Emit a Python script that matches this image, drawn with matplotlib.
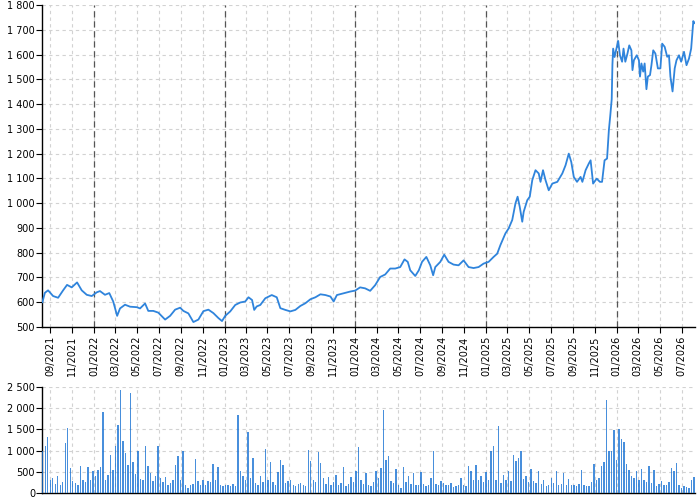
import matplotlib
matplotlib.use("Agg")
import matplotlib.pyplot as plt
import matplotlib.dates as mdates
import matplotlib.ticker as mticker
import pandas as pd
import numpy as np

price_dates = [
    "2021-08-10", "2021-08-17", "2021-08-26", "2021-09-09", "2021-09-23", "2021-10-07", "2021-10-18",
    "2021-10-31", "2021-11-15", "2021-11-28", "2021-12-12", "2021-12-26", "2022-01-09", "2022-01-18",
    "2022-02-01", "2022-02-13", "2022-02-24", "2022-03-07", "2022-03-15", "2022-03-29", "2022-04-12",
    "2022-05-01", "2022-05-10", "2022-05-24", "2022-06-02", "2022-06-16", "2022-06-30", "2022-07-19",
    "2022-08-02", "2022-08-16", "2022-08-30", "2022-09-08", "2022-09-22", "2022-10-06", "2022-10-20",
    "2022-11-03", "2022-11-17", "2022-12-01", "2022-12-15", "2022-12-25", "2023-01-03", "2023-01-17",
    "2023-01-31", "2023-02-14", "2023-02-28", "2023-03-09", "2023-03-19", "2023-03-25", "2023-04-01",
    "2023-04-11", "2023-04-25", "2023-05-13", "2023-05-27", "2023-06-06", "2023-06-20", "2023-07-04",
    "2023-07-18", "2023-08-01", "2023-08-15", "2023-08-29", "2023-09-12", "2023-09-26", "2023-10-10",
    "2023-10-24", "2023-11-02", "2023-11-11", "2023-11-30", "2023-12-18", "2024-01-01", "2024-01-15",
    "2024-01-29", "2024-02-12", "2024-02-26", "2024-03-11", "2024-03-25", "2024-04-08", "2024-04-22",
    "2024-05-06", "2024-05-18", "2024-05-27", "2024-06-03", "2024-06-17", "2024-06-27", "2024-07-06",
    "2024-07-18", "2024-07-29", "2024-08-06", "2024-08-12", "2024-08-26", "2024-09-06", "2024-09-18",
    "2024-10-02", "2024-10-16", "2024-10-30", "2024-11-13", "2024-11-27", "2024-12-11", "2024-12-25",
    "2025-01-08", "2025-01-22", "2025-02-01", "2025-02-10", "2025-02-24", "2025-03-05", "2025-03-15",
    "2025-03-24", "2025-03-30", "2025-04-05", "2025-04-12", "2025-04-16", "2025-04-26", "2025-05-03",
    "2025-05-10", "2025-05-19", "2025-05-28", "2025-06-02", "2025-06-09", "2025-06-16", "2025-06-25",
    "2025-07-05", "2025-07-19", "2025-08-02", "2025-08-11", "2025-08-20", "2025-08-27", "2025-09-03",
    "2025-09-12", "2025-09-22", "2025-09-27", "2025-10-06", "2025-10-15", "2025-10-20", "2025-10-27",
    "2025-11-06", "2025-11-15", "2025-11-21", "2025-11-28", "2025-12-05", "2025-12-10", "2025-12-14",
    "2025-12-18", "2025-12-20", "2025-12-22", "2025-12-26", "2026-01-01", "2026-01-05", "2026-01-10",
    "2026-01-16", "2026-01-20", "2026-01-25", "2026-01-31", "2026-02-05", "2026-02-11", "2026-02-14",
    "2026-02-18", "2026-02-26", "2026-03-04", "2026-03-07", "2026-03-11", "2026-03-16", "2026-03-20",
    "2026-03-25", "2026-03-29", "2026-04-04", "2026-04-08", "2026-04-13", "2026-04-19", "2026-04-26",
    "2026-05-03", "2026-05-08", "2026-05-15", "2026-05-22", "2026-05-27", "2026-05-31", "2026-06-06",
    "2026-06-12", "2026-06-17", "2026-06-24", "2026-06-30", "2026-07-08", "2026-07-15", "2026-07-22",
    "2026-07-28", "2026-08-03", "2026-08-06",
]
price_values = [
    600, 638, 648, 625, 618, 648, 670,
    660, 680, 648, 630, 625, 640, 645,
    630, 637, 603, 545, 575, 590, 582,
    580, 575, 595, 565, 565, 558, 530,
    545, 570, 578, 565, 555, 520, 530,
    564, 570, 556, 536, 524, 545, 563,
    589, 599, 603, 620, 609, 569, 583,
    589, 616, 629, 620, 576, 569, 563,
    569, 585, 596, 612, 620, 632, 629,
    623, 603, 629, 636, 643, 647, 660,
    656, 646, 669, 702, 712, 736, 736,
    742, 773, 763, 729, 706, 729, 763,
    783, 749, 709, 742, 763, 792, 763,
    752, 749, 769, 742, 738, 742, 756,
    763, 783, 796, 831, 878, 898, 932,
    999, 1026, 985, 925, 965, 1012, 1026,
    1093, 1133, 1120, 1086, 1133, 1093, 1052,
    1079, 1086, 1120, 1153, 1200, 1166, 1106,
    1086, 1106, 1086, 1133, 1160, 1173, 1079,
    1099, 1086, 1086, 1173, 1180, 1294, 1354,
    1420, 1560, 1624, 1590, 1630, 1655, 1597,
    1571, 1624, 1571, 1604, 1637, 1617, 1537,
    1577, 1597, 1577, 1511, 1564, 1531, 1564,
    1460, 1511, 1517, 1557, 1617, 1604, 1544,
    1544, 1644, 1631, 1591, 1597, 1511, 1451,
    1544, 1577, 1597, 1571, 1611, 1557, 1584,
    1624, 1735, 1727,
]

# weekly volume, weeks starting 2021-08-09
volume_start = "2021-08-09"
volume_values = [
    1000, 1100, 1320, 300, 350, 220, 390, 200, 260, 1180,
    1530, 590, 280, 240, 200, 640, 310, 250, 610, 300,
    510, 390, 550, 610, 1920, 310, 420, 900, 550, 1100,
    1610, 2440, 1220, 940, 670, 2360, 720, 450, 980, 330,
    300, 1120, 630, 470, 280, 390, 1120, 350, 260, 380,
    200, 240, 300, 670, 880, 300, 980, 200, 120, 180,
    220, 800, 280, 200, 310, 180, 280, 250, 690, 300,
    610, 200, 160, 200, 180, 160, 220, 170, 1850, 510,
    390, 300, 1450, 350, 830, 240, 200, 390, 260, 1040,
    300, 720, 250, 200, 490, 790, 670, 240, 280, 310,
    200, 170, 220, 240, 180, 160, 1010, 750, 310, 250,
    960, 710, 350, 220, 380, 200, 250, 430, 200, 240,
    610, 160, 220, 370, 250, 530, 1080, 300, 220, 470,
    200, 160, 250, 510, 350, 590, 1950, 790, 880, 280,
    230, 570, 200, 120, 610, 250, 390, 220, 460, 200,
    180, 500, 220, 170, 200, 350, 1000, 220, 180, 280,
    240, 180, 200, 240, 150, 170, 200, 350, 180, 160,
    640, 510, 300, 670, 310, 390, 250, 490, 310, 980,
    1120, 300, 1590, 240, 430, 310, 510, 280, 900, 750,
    820, 980, 330, 390, 250, 570, 280, 240, 510, 220,
    310, 160, 200, 350, 230, 510, 200, 220, 460, 200,
    330, 180, 200, 160, 220, 550, 200, 160, 170, 250,
    690, 310, 350, 640, 720, 2200, 980, 1000, 1480, 790,
    1510, 1270, 1210, 690, 550, 400, 350, 510, 300, 570,
    310, 250, 640, 240, 550, 160, 220, 280, 180, 200,
    250, 590, 530, 710, 200, 120, 170, 150, 120, 310,
    380,
]

year_lines = ["2022-01-01", "2023-01-01", "2024-01-01", "2025-01-01", "2026-01-01"]
x_start, x_end = "2021-08-09", "2026-08-08"

line_color = "#2f84dc"
bar_color = "#1a73d4"
grid_kw = dict(color="#d2d2d2", linestyle=(0, (3, 3)), linewidth=0.8)

pd_dates = pd.to_datetime(price_dates)
vol_dates = pd.date_range(volume_start, periods=len(volume_values), freq="7D")

fig = plt.figure(figsize=(7, 5), dpi=100)
ax = fig.add_axes([0.06, 0.346, 0.933, 0.644])
axv = fig.add_axes([0.06, 0.014, 0.933, 0.212])

thousands = mticker.FuncFormatter(lambda v, p: f"{v:,.0f}".replace(",", " "))

for a in (ax, axv):
    for s in ("top", "right"):
        a.spines[s].set_visible(False)
    for s in ("left", "bottom"):
        a.spines[s].set_color("black")
        a.spines[s].set_linewidth(1.0)
    a.set_xlim(pd.Timestamp(x_start), pd.Timestamp(x_end))
    a.xaxis.set_major_locator(mdates.MonthLocator(bymonth=[1, 3, 5, 7, 9, 11]))
    a.xaxis.set_major_formatter(mdates.DateFormatter("%m/%Y"))
    a.grid(True, **grid_kw)
    a.set_axisbelow(True)
    a.yaxis.set_major_formatter(thousands)
    a.tick_params(axis="y", labelsize=7, length=4, width=0.8, color="black", pad=1)

ax.plot(pd_dates, price_values, color=line_color, linewidth=1.3, zorder=3)
for d in year_lines:
    ax.axvline(pd.Timestamp(d), color="#555555", linestyle=(0, (5, 3)), linewidth=0.9, zorder=2)
ax.set_ylim(500, 1800)
ax.yaxis.set_major_locator(mticker.MultipleLocator(100))
ax.tick_params(axis="x", labelsize=7, rotation=90, length=4, width=0.8, color="black", pad=2)

axv.bar(vol_dates, volume_values, width=4, align="edge", color=bar_color, alpha=0.8,
        linewidth=0, zorder=3)
axv.set_ylim(0, 2500)
axv.yaxis.set_major_locator(mticker.MultipleLocator(500))
axv.tick_params(axis="x", labelbottom=False, length=0)

fig.savefig("out.png", dpi=100)
